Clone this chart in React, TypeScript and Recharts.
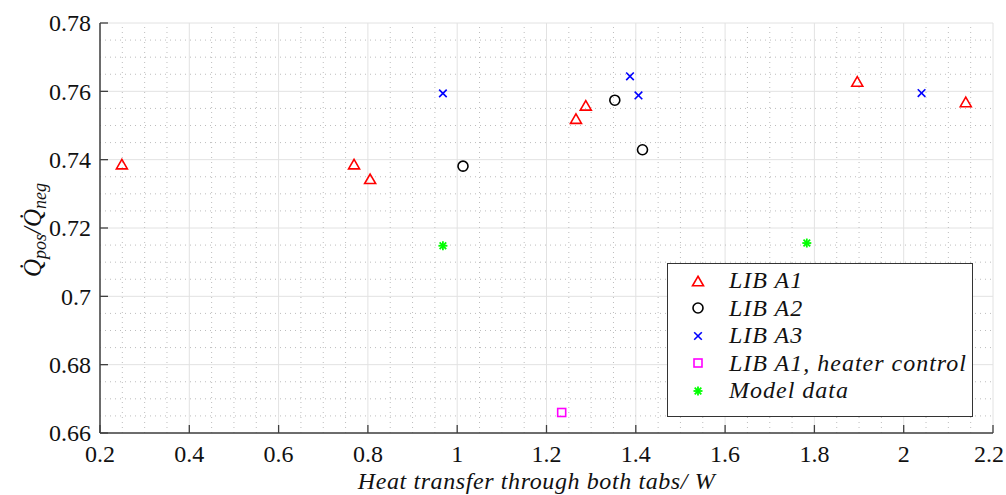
import React from 'react';
import { ScatterChart, Scatter, XAxis, YAxis, CartesianGrid, ReferenceLine } from 'recharts';

const xTicks = [0.2, 0.4, 0.6, 0.8, 1, 1.2, 1.4, 1.6, 1.8, 2, 2.2];
const yTicks = [0.66, 0.68, 0.7, 0.72, 0.74, 0.76, 0.78];
const xTickLabels = ['0.2', '0.4', '0.6', '0.8', '1', '1.2', '1.4', '1.6', '1.8', '2', '2.2'];
const yTickLabels = ['0.66', '0.68', '0.7', '0.72', '0.74', '0.76', '0.78'];

const a1X = [0.249, 0.769, 0.805, 1.266, 1.288, 1.896, 2.139];
const a1Y = [0.7387, 0.7387, 0.7344, 0.752, 0.7559, 0.7629, 0.7569];
const a2X = [1.013, 1.353, 1.415];
const a2Y = [0.7381, 0.7574, 0.7429];
const a3X = [0.968, 1.387, 1.406, 2.04];
const a3Y = [0.7594, 0.7644, 0.7588, 0.7595];
const heaterX = [1.234];
const heaterY = [0.666];
const modelX = [0.968, 1.783];
const modelY = [0.7148, 0.7156];

const seriesNames = ['LIB A1', 'LIB A2', 'LIB A3', 'LIB A1, heater control', 'Model data'];

const zip = (xs: number[], ys: number[]) => xs.map((x, i) => ({ x, y: ys[i] }));

const minorX: number[] = [];
for (let i = 5; i < 44; i++) if (i % 4 !== 0) minorX.push(i / 20);
const minorY: number[] = [];
for (let i = 133; i < 156; i++) if (i % 4 !== 0) minorY.push(i / 200);

const FONT = 'Liberation Serif';

const Tri = ({ cx, cy, s = 1 }: any) => {
  const h = 9.5 * s, w = 11 * s;
  return <polygon points={`${cx},${cy - h / 2} ${cx + w / 2},${cy + h / 2} ${cx - w / 2},${cy + h / 2}`} fill="none" stroke="#ff0000" strokeWidth={1.6} />;
};
const Circ = ({ cx, cy }: any) => <circle cx={cx} cy={cy} r={5} fill="none" stroke="#000" strokeWidth={1.6} />;
const Cross = ({ cx, cy }: any) => (
  <g stroke="#0000ff" strokeWidth={1.6}>
    <line x1={cx - 3.8} y1={cy - 3.8} x2={cx + 3.8} y2={cy + 3.8} />
    <line x1={cx - 3.8} y1={cy + 3.8} x2={cx + 3.8} y2={cy - 3.8} />
  </g>
);
const Sq = ({ cx, cy }: any) => <rect x={cx - 4} y={cy - 4} width={8} height={8} fill="none" stroke="#ff00ff" strokeWidth={1.6} />;
const Star = ({ cx, cy }: any) => (
  <g stroke="#00ff00" strokeWidth={1.8}>
    <line x1={cx - 4.5} y1={cy} x2={cx + 4.5} y2={cy} />
    <line x1={cx} y1={cy - 4.5} x2={cx} y2={cy + 4.5} />
    <line x1={cx - 3.3} y1={cy - 3.3} x2={cx + 3.3} y2={cy + 3.3} />
    <line x1={cx - 3.3} y1={cy + 3.3} x2={cx + 3.3} y2={cy - 3.3} />
  </g>
);
const markers = [Tri, Circ, Cross, Sq, Star];

const XTick = ({ x, y, payload }: any) => {
  const label = xTickLabels[xTicks.indexOf(payload.value)] ?? String(payload.value);
  const overflow = x + 16 > 1004;
  return (
    <g>
      <line x1={x} y1={433} x2={x} y2={425} stroke="#404040" strokeWidth={1.3} />
      <text x={overflow ? 1004 : x} y={y} dy="0.71em" textAnchor={overflow ? 'end' : 'middle'} style={{ fontFamily: FONT }} fontSize={24} fill="#111">
        {label}
      </text>
    </g>
  );
};
const YTick = ({ x, y, payload }: any) => (
  <g>
    <line x1={100} y1={y} x2={108} y2={y} stroke="#404040" strokeWidth={1.3} />
    <text x={x} y={y} dy="0.35em" textAnchor="end" style={{ fontFamily: FONT }} fontSize={24} fill="#111">
      {yTickLabels[yTicks.indexOf(payload.value)] ?? payload.value}
    </text>
  </g>
);

const YLabel = ({ viewBox }: any) => {
  const cx = 32;
  const cy = viewBox ? viewBox.y + viewBox.height / 2 + 2 : 230;
  return (
    <text x={cx} y={cy} transform={`rotate(-90 ${cx} ${cy})`} textAnchor="middle" dy="0.35em" style={{ fontFamily: FONT, fontStyle: 'italic' }} fontSize={25} fill="#111">
      <tspan>{'Q\u0307'}</tspan>
      <tspan fontSize={18} dy={5}>pos</tspan>
      <tspan dy={-5}>{'/Q\u0307'}</tspan>
      <tspan fontSize={18} dy={5}>neg</tspan>
    </text>
  );
};

const XLabel = ({ viewBox }: any) => {
  const cx = viewBox ? viewBox.x + viewBox.width / 2 - 10 : 536;
  return (
    <text x={cx} y={489} textAnchor="middle" style={{ fontFamily: FONT, fontStyle: 'italic', letterSpacing: '0.6px' }} fontSize={24} fill="#111">
      Heat transfer through both tabs/ W
    </text>
  );
};

const Legendbox = () => (
  <div
    style={{
      position: 'absolute', left: 667, top: 263, width: 306, height: 154,
      border: '1.5px solid #333', background: '#fff', boxSizing: 'border-box',
      fontFamily: FONT, fontStyle: 'italic', fontSize: 24, color: '#111', letterSpacing: '1px',
    }}
  >
    {seriesNames.map((n, i) => {
      const M = markers[i];
      return (
        <div key={n} style={{ position: 'absolute', left: 0, top: 3 + i * 27.5, height: 27.5, display: 'flex', alignItems: 'center', whiteSpace: 'nowrap' }}>
          <svg width={61} height={20} style={{ display: 'block' }}>
            <M cx={30} cy={10} />
          </svg>
          <span style={{ lineHeight: '27px' }}>{n}</span>
        </div>
      );
    })}
  </div>
);

export default function App() {
  const data = [zip(a1X, a1Y), zip(a2X, a2Y), zip(a3X, a3Y), zip(heaterX, heaterY), zip(modelX, modelY)];
  return (
    <div style={{ position: 'absolute', left: 0, top: 0, width: 1006, height: 495, background: '#fff', overflow: 'hidden', fontFamily: FONT }}>
      <ScatterChart width={1006} height={495} margin={{ top: 23, right: 13, left: 0, bottom: 0 }} style={{ fontFamily: FONT }}>
        <CartesianGrid stroke="#e2e2e2" strokeWidth={1} />
        {minorX.map((v) => (
          <ReferenceLine key={'mx' + v} x={v} stroke="#bdbdbd" strokeWidth={1} strokeDasharray="1 4" />
        ))}
        {minorY.map((v) => (
          <ReferenceLine key={'my' + v} y={v} stroke="#bdbdbd" strokeWidth={1} strokeDasharray="1 4" />
        ))}
        <XAxis
          type="number" dataKey="x" domain={[0.2, 2.2]} ticks={xTicks} interval={0}
          height={62} tickSize={0} tickMargin={12} tick={<XTick />}
          axisLine={{ stroke: '#404040', strokeWidth: 1.5 }} label={<XLabel />} allowDataOverflow
        />
        <YAxis
          type="number" dataKey="y" domain={[0.66, 0.78]} ticks={yTicks} interval={0}
          width={100} tickSize={0} tickMargin={9} tick={<YTick />}
          axisLine={{ stroke: '#404040', strokeWidth: 1.5 }} label={<YLabel />} allowDataOverflow
        />
        {data.map((d, i) => {
          const M = markers[i];
          return <Scatter key={seriesNames[i]} name={seriesNames[i]} data={d} isAnimationActive={false} shape={(p: any) => <M cx={p.cx} cy={p.cy} />} />;
        })}
      </ScatterChart>
      <Legendbox />
    </div>
  );
}
